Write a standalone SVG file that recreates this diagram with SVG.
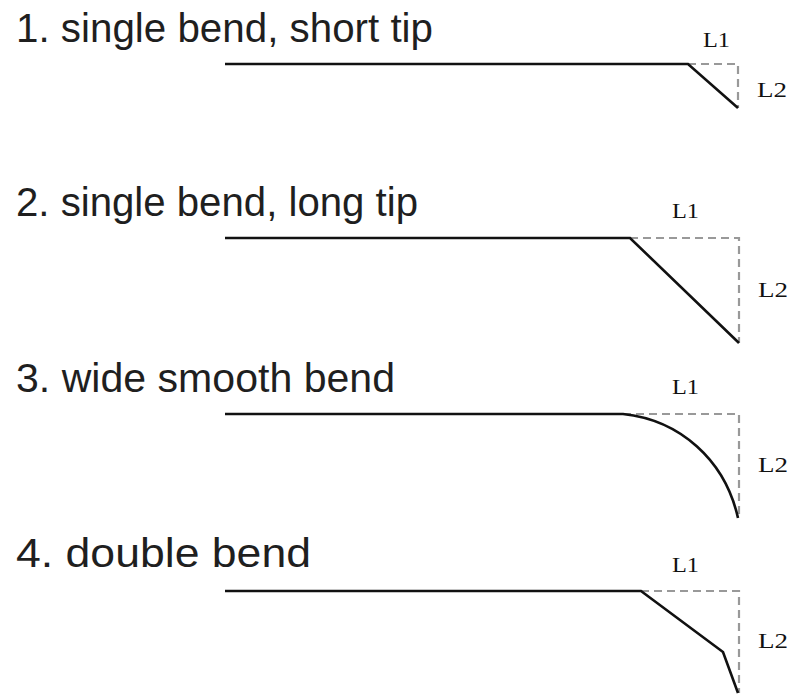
<svg xmlns="http://www.w3.org/2000/svg" width="790" height="695" viewBox="0 0 790 695">
<style>
.title{font-family:"Liberation Sans","Arial",sans-serif;font-size:40px;fill:#1f1f1f}
.lab{font-family:"Liberation Serif","Times New Roman",serif;font-size:22px;fill:#111}
.wire{fill:none;stroke:#111;stroke-width:2.6;stroke-linejoin:miter}
.dash{fill:none;stroke:#999;stroke-width:2.2;stroke-dasharray:8 5}
</style>
<rect width="790" height="695" fill="#fff"/>
<g id="panel1">
<text class="title" x="16" y="42" textLength="417" lengthAdjust="spacingAndGlyphs">1. single bend, short tip</text>
<polyline class="dash" points="688,64 738,64 738,108"/>
<polyline class="wire" points="225,64 688,64 738,108"/>
<text class="lab" x="703" y="47" textLength="27" lengthAdjust="spacingAndGlyphs">L1</text>
<text class="lab" x="757" y="97" textLength="30" lengthAdjust="spacingAndGlyphs">L2</text>
</g>
<g id="panel2">
<text class="title" x="16" y="216" textLength="402" lengthAdjust="spacingAndGlyphs">2. single bend, long tip</text>
<polyline class="dash" points="630,238 739,238 739,343"/>
<polyline class="wire" points="225,238 630,238 739,343"/>
<text class="lab" x="672" y="218" textLength="27" lengthAdjust="spacingAndGlyphs">L1</text>
<text class="lab" x="758" y="297" textLength="30" lengthAdjust="spacingAndGlyphs">L2</text>
</g>
<g id="panel3">
<text class="title" x="16" y="392" textLength="379" lengthAdjust="spacingAndGlyphs">3. wide smooth bend</text>
<polyline class="dash" points="623,414 739,414 739,518"/>
<path class="wire" d="M225,414 H623 C680,420 725,460 738,518"/>
<text class="lab" x="672" y="394" textLength="27" lengthAdjust="spacingAndGlyphs">L1</text>
<text class="lab" x="758" y="472" textLength="30" lengthAdjust="spacingAndGlyphs">L2</text>
</g>
<g id="panel4">
<text class="title" x="16" y="567" textLength="295" lengthAdjust="spacingAndGlyphs">4. double bend</text>
<polyline class="dash" points="641,591 739,591 739,693"/>
<polyline class="wire" points="225,591 641,591 723,652 738,693"/>
<text class="lab" x="672" y="572" textLength="27" lengthAdjust="spacingAndGlyphs">L1</text>
<text class="lab" x="758" y="648" textLength="30" lengthAdjust="spacingAndGlyphs">L2</text>
</g>
<g id="connectors"></g>
</svg>
